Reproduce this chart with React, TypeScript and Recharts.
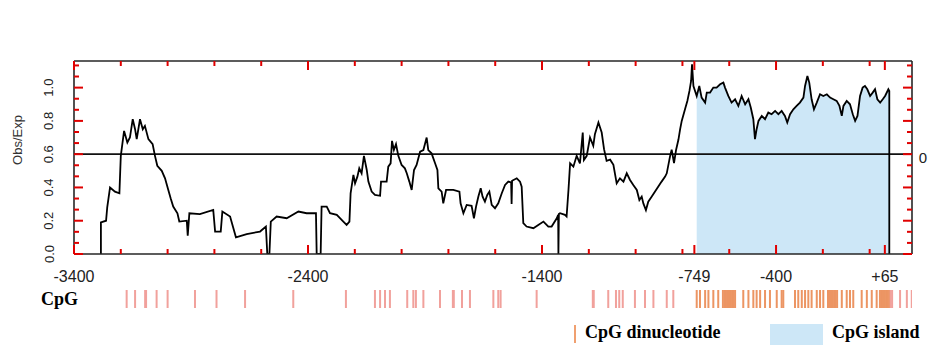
import React from 'react';
import { ComposedChart, Line, Area, XAxis, YAxis, ReferenceLine, ScatterChart, Scatter } from 'recharts';

// sequence position (bp relative to TSS) and CpG obs/exp ratio
const POS = [
  -3285, -3285, -3263, -3258, -3246, -3225, -3206, -3200, -3186, -3172, -3161, -3149, -3139, -3132, -3118, -3106,
  -3097, -3082, -3064, -3054, -3044, -3025, -3011, -2997, -2987, -2976, -2958, -2950, -2918, -2914, -2907, -2862,
  -2805, -2797, -2773, -2766, -2733, -2708, -2662, -2605, -2580, -2574, -2565, -2559, -2534, -2491, -2441, -2406,
  -2366, -2363, -2346, -2342, -2320, -2306, -2277, -2249, -2235, -2223, -2218, -2206, -2199, -2189, -2181, -2171,
  -2161, -2149, -2142, -2128, -2114, -2092, -2088, -2064, -2057, -2047, -2041, -2033, -2024, -2014, -2000, -1986,
  -1978, -1967, -1957, -1947, -1936, -1921, -1907, -1893, -1886, -1872, -1857, -1847, -1843, -1829, -1822, -1810,
  -1779, -1753, -1748, -1736, -1722, -1701, -1691, -1682, -1672, -1662, -1654, -1644, -1634, -1625, -1615, -1601,
  -1587, -1572, -1558, -1544, -1532, -1530, -1528, -1508, -1494, -1487, -1480, -1466, -1437, -1416, -1394, -1373,
  -1359, -1337, -1331, -1330, -1328, -1323, -1302, -1295, -1287, -1280, -1266, -1252, -1238, -1226, -1221, -1209,
  -1195, -1181, -1174, -1159, -1145, -1135, -1124, -1109, -1095, -1081, -1067, -1052, -1038, -1024, -1010, -995,
  -984, -974, -967, -956, -946, -931, -917, -903, -889, -874, -867, -853, -846, -836, -827, -817,
  -810, -803, -789, -779, -770, -763, -759, -753, -739, -728, -718, -703, -696, -682, -668, -654,
  -639, -625, -618, -604, -590, -575, -561, -547, -532, -518, -508, -497, -490, -483, -475, -461,
  -447, -433, -419, -404, -390, -376, -362, -352, -340, -326, -312, -298, -283, -276, -266, -258,
  -248, -238, -226, -212, -198, -183, -169, -155, -141, -129, -119, -112, -98, -84, -72, -62,
  -52, -41, -30, -20, -10, 2, 13, 23, 33, 45, 56, 66, 80, 84, 84,
];
const OBS_EXP = [
  0, 0.19, 0.2, 0.28, 0.4, 0.375, 0.365, 0.59, 0.74, 0.67, 0.7, 0.81, 0.75, 0.69, 0.81, 0.75,
  0.77, 0.69, 0.66, 0.59, 0.53, 0.5, 0.455, 0.385, 0.335, 0.285, 0.245, 0.195, 0.2, 0.11, 0.245, 0.24,
  0.265, 0.135, 0.135, 0.255, 0.225, 0.1, 0.12, 0.135, 0.165, 0, 0, 0.195, 0.225, 0.215, 0.255, 0.245,
  0.245, 0, 0, 0.285, 0.285, 0.245, 0.235, 0.195, 0.175, 0.195, 0.365, 0.475, 0.425, 0.465, 0.515, 0.485,
  0.59, 0.505, 0.435, 0.375, 0.355, 0.35, 0.435, 0.435, 0.525, 0.545, 0.68, 0.625, 0.66, 0.59, 0.535, 0.515,
  0.485, 0.435, 0.385, 0.505, 0.535, 0.615, 0.625, 0.7, 0.625, 0.605, 0.545, 0.505, 0.395, 0.375, 0.305, 0.385,
  0.385, 0.375, 0.305, 0.245, 0.295, 0.29, 0.215, 0.285, 0.345, 0.395, 0.345, 0.315, 0.355, 0.375, 0.295, 0.275,
  0.305, 0.365, 0.415, 0.435, 0.43, 0.3, 0.44, 0.455, 0.435, 0.405, 0.185, 0.165, 0.155, 0.175, 0.195, 0.165,
  0.165, 0.215, 0.235, 0, 0.24, 0.245, 0.235, 0.225, 0.385, 0.545, 0.525, 0.59, 0.545, 0.73, 0.565, 0.59,
  0.7, 0.65, 0.72, 0.79, 0.73, 0.63, 0.56, 0.567, 0.536, 0.425, 0.455, 0.435, 0.485, 0.445, 0.415, 0.385,
  0.324, 0.345, 0.304, 0.264, 0.314, 0.345, 0.375, 0.405, 0.435, 0.465, 0.485, 0.587, 0.627, 0.547, 0.627, 0.688,
  0.749, 0.8, 0.87, 0.92, 0.98, 1.04, 1.14, 1.01, 0.95, 1.01, 0.94, 0.91, 0.97, 0.97, 1.0, 1.0,
  1.02, 1.03, 1.0, 0.95, 0.91, 0.93, 0.89, 0.95, 0.9, 0.93, 0.88, 0.81, 0.69, 0.75, 0.8, 0.83,
  0.81, 0.85, 0.84, 0.86, 0.84, 0.86, 0.83, 0.79, 0.84, 0.87, 0.89, 0.91, 0.94, 1.01, 1.07, 1.03,
  0.93, 0.87, 0.91, 0.96, 0.95, 0.96, 0.94, 0.93, 0.92, 0.89, 0.83, 0.89, 0.92, 0.9, 0.84, 0.8,
  0.83, 0.95, 1.0, 1.01, 0.99, 0.95, 0.97, 0.99, 0.93, 0.91, 0.93, 0.95, 0.99, 0.98, 0,
];

// CpG island span as drawn (shaded region)
const ISLAND_FROM = -739;
const ISLAND_TO = 84;
const THRESHOLD = 0.6;

// individual CpG dinucleotide sites
const CPG_SITES = [
  -3175, -3139, -3096, -3092, -3047, -3000, -2883, -2791, -2669, -2463, -2238, -2114, -2092, -2071, -2050, -1976,
  -1950, -1939, -1907, -1836, -1781, -1777, -1742, -1708, -1608, -1587, -1577, -1423, -1183, -1179, -1117, -1084,
  -1070, -1055, -1003, -960, -924, -867, -839, -739, -725, -703, -689, -668, -647, -627, -620, -614, -607, -601,
  -594, -588, -581, -575, -540, -518, -497, -483, -468, -447, -426, -397, -376, -369, -319, -305, -290, -276, -262,
  -248, -226, -212, -198, -178, -171, -165, -158, -152, -145, -139, -119, -98, -84, -70, -34, -12, 9, 30, 44,
  50, 57, 63, 70, 77, 83, 90, 96, 130, 159, 180,
];

const X_DOMAIN = [-3400, 181];
const X_TICKS = [-3400, -3200, -3000, -2800, -2600, -2400, -2200, -2000, -1800, -1600, -1400, -1200, -1000, -800, -749, -600, -400, -200, 0, 65];
const X_LABEL_AT = [-3400, -2400, -1400, -749, -400, 65];
const X_LABELS = ['-3400', '-2400', '-1400', '-749', '-400', '+65'];
const Y_DOMAIN = [0, 1.16];
const Y_TICKS = [0, 0.0667, 0.1333, 0.2, 0.2667, 0.3333, 0.4, 0.4667, 0.5333, 0.6, 0.6667, 0.7333, 0.8, 0.8667, 0.9333, 1.0, 1.0667, 1.1333];
const Y_LABEL_AT = [0, 0.2, 0.4, 0.6, 0.8, 1.0];
const Y_LABELS = ['0.0', '0.2', '0.4', '0.6', '0.8', '1.0'];

const rows = POS.map((x, i) => ({
  x,
  v: OBS_EXP[i],
  isl: x >= ISLAND_FROM && x <= ISLAND_TO ? OBS_EXP[i] : null,
}));
const sites = CPG_SITES.map((x) => ({ x, y: 0.5 }));

const AX = '#262626';
const TK = '#e00000'; // temporary: tick colour, to see whether the ticks are drawn
const SANS = '"Liberation Sans", Arial, sans-serif';
const SERIF = '"Liberation Serif", "Times New Roman", serif';
const BLUE = '#cde7f7';
const MINOR = 5;
const MAJOR = 9;

const yMajor = (v: number) => Y_LABEL_AT.findIndex((t) => Math.abs(t - v) < 0.005);

// x/y arrive on the axis line (tickSize 0, tickMargin 0); ticks point into the plot
const BottomTick = ({ x, y, payload }: any) => {
  const i = X_LABEL_AT.indexOf(payload.value);
  return (
    <g>
      <line x1={x} x2={x} y1={y} y2={y - (i >= 0 ? MAJOR : MINOR)} stroke={TK} strokeWidth={2} />
      {i >= 0 && (
        <text x={x} y={y + 28} textAnchor="middle" fontSize={16} fill="#222" fontFamily={SANS}>
          {X_LABELS[i]}
        </text>
      )}
    </g>
  );
};

const TopTick = ({ x, y, payload }: any) => (
  <line x1={x} x2={x} y1={y} y2={y + (X_LABEL_AT.indexOf(payload.value) >= 0 ? MAJOR : MINOR)} stroke={TK} strokeWidth={2} />
);

const LeftTick = ({ x, y, payload }: any) => {
  const i = yMajor(payload.value);
  const lx = x - 25;
  return (
    <g>
      <line x1={x} x2={x + (i >= 0 ? MAJOR : MINOR)} y1={y} y2={y} stroke={TK} strokeWidth={2} />
      {i >= 0 && (
        <text x={lx} y={y} transform={`rotate(-90 ${lx} ${y})`} textAnchor="middle" dominantBaseline="central"
          fontSize={13} fill="#222" fontFamily={SANS}>
          {Y_LABELS[i]}
        </text>
      )}
    </g>
  );
};

const RightTick = ({ x, y, payload }: any) => (
  <line x1={x} x2={x - (yMajor(payload.value) >= 0 ? MAJOR : MINOR)} y1={y} y2={y} stroke={TK} strokeWidth={2} />
);

const SiteMark = (p: any) => {
  const inside = p.payload.x >= ISLAND_FROM && p.payload.x <= ISLAND_TO;
  return <rect x={p.cx - 1} y={p.cy - 9} width={2} height={18} fill={inside ? '#ec9563' : '#f1a19c'} />;
};

const axisLine = { stroke: AX, strokeWidth: 1.6 };

export default function App() {
  return (
    <div style={{ position: 'absolute', left: 0, top: 0, width: 929, height: 345, background: '#fff', overflow: 'hidden' }}>
      <div style={{ position: 'absolute', left: 0, top: 0 }}>
        <ComposedChart width={929} height={290} data={rows} margin={{ top: 60, right: 16, bottom: 6, left: 0 }}>
          <XAxis xAxisId="b" dataKey="x" type="number" domain={X_DOMAIN} allowDataOverflow ticks={X_TICKS} interval={0}
            height={30} tickSize={0} tickMargin={0} tickLine={false} axisLine={axisLine} tick={(p: any) => <BottomTick {...p} />} />
          <XAxis xAxisId="t" orientation="top" dataKey="x" type="number" domain={X_DOMAIN} allowDataOverflow ticks={X_TICKS} interval={0}
            height={1} tickSize={0} tickMargin={0} tickLine={false} axisLine={axisLine} tick={(p: any) => <TopTick {...p} />} />
          <YAxis yAxisId="l" type="number" domain={Y_DOMAIN} allowDataOverflow ticks={Y_TICKS} interval={0} width={74}
            tickSize={0} tickMargin={0} tickLine={false} axisLine={axisLine} tick={(p: any) => <LeftTick {...p} />} />
          <YAxis yAxisId="r" orientation="right" type="number" domain={Y_DOMAIN} allowDataOverflow ticks={Y_TICKS} interval={0} width={1}
            tickSize={0} tickMargin={0} tickLine={false} axisLine={axisLine} tick={(p: any) => <RightTick {...p} />} />
          <Area xAxisId="b" yAxisId="l" type="linear" dataKey="isl" stroke="none" fill={BLUE} fillOpacity={1} baseValue={0}
            isAnimationActive={false} dot={false} activeDot={false} />
          <ReferenceLine xAxisId="b" yAxisId="l" y={THRESHOLD} stroke="#111" strokeWidth={1.6} />
          <Line xAxisId="b" yAxisId="l" type="linear" dataKey="v" stroke="#000" strokeWidth={1.8} dot={false}
            activeDot={false} isAnimationActive={false} />
        </ComposedChart>
      </div>
      <div style={{ position: 'absolute', left: 0, top: 284 }}>
        <ScatterChart width={929} height={30} margin={{ top: 0, right: 17, bottom: 0, left: 74 }}>
          <XAxis dataKey="x" type="number" domain={X_DOMAIN} allowDataOverflow hide />
          <YAxis dataKey="y" type="number" domain={[0, 1]} hide />
          <Scatter data={sites} shape={SiteMark} isAnimationActive={false} />
        </ScatterChart>
      </div>
      <svg width={929} height={345} style={{ position: 'absolute', left: 0, top: 0, pointerEvents: 'none' }}>
        <text x={17} y={140} transform="rotate(-90 17 140)" textAnchor="middle" dominantBaseline="central"
          fontSize={13} fill="#333" fontFamily={SANS}>Obs/Exp</text>
        <text x={923} y={157} textAnchor="middle" dominantBaseline="central" fontSize={15} fill="#222" fontFamily={SANS}>0</text>
        <text x={41} y={305} fontSize={18} fontWeight="bold" fill="#000" fontFamily={SERIF}>CpG</text>
        <rect x={574} y={325} width={2} height={18} fill="#f0a070" />
        <text x={585} y={338} fontSize={18} fontWeight="bold" fill="#000" fontFamily={SERIF}>CpG dinucleotide</text>
        <rect x={770} y={324} width={53} height={21} fill={BLUE} />
        <text x={832} y={338} fontSize={18} fontWeight="bold" fill="#000" fontFamily={SERIF}>CpG island</text>
      </svg>
    </div>
  );
}
